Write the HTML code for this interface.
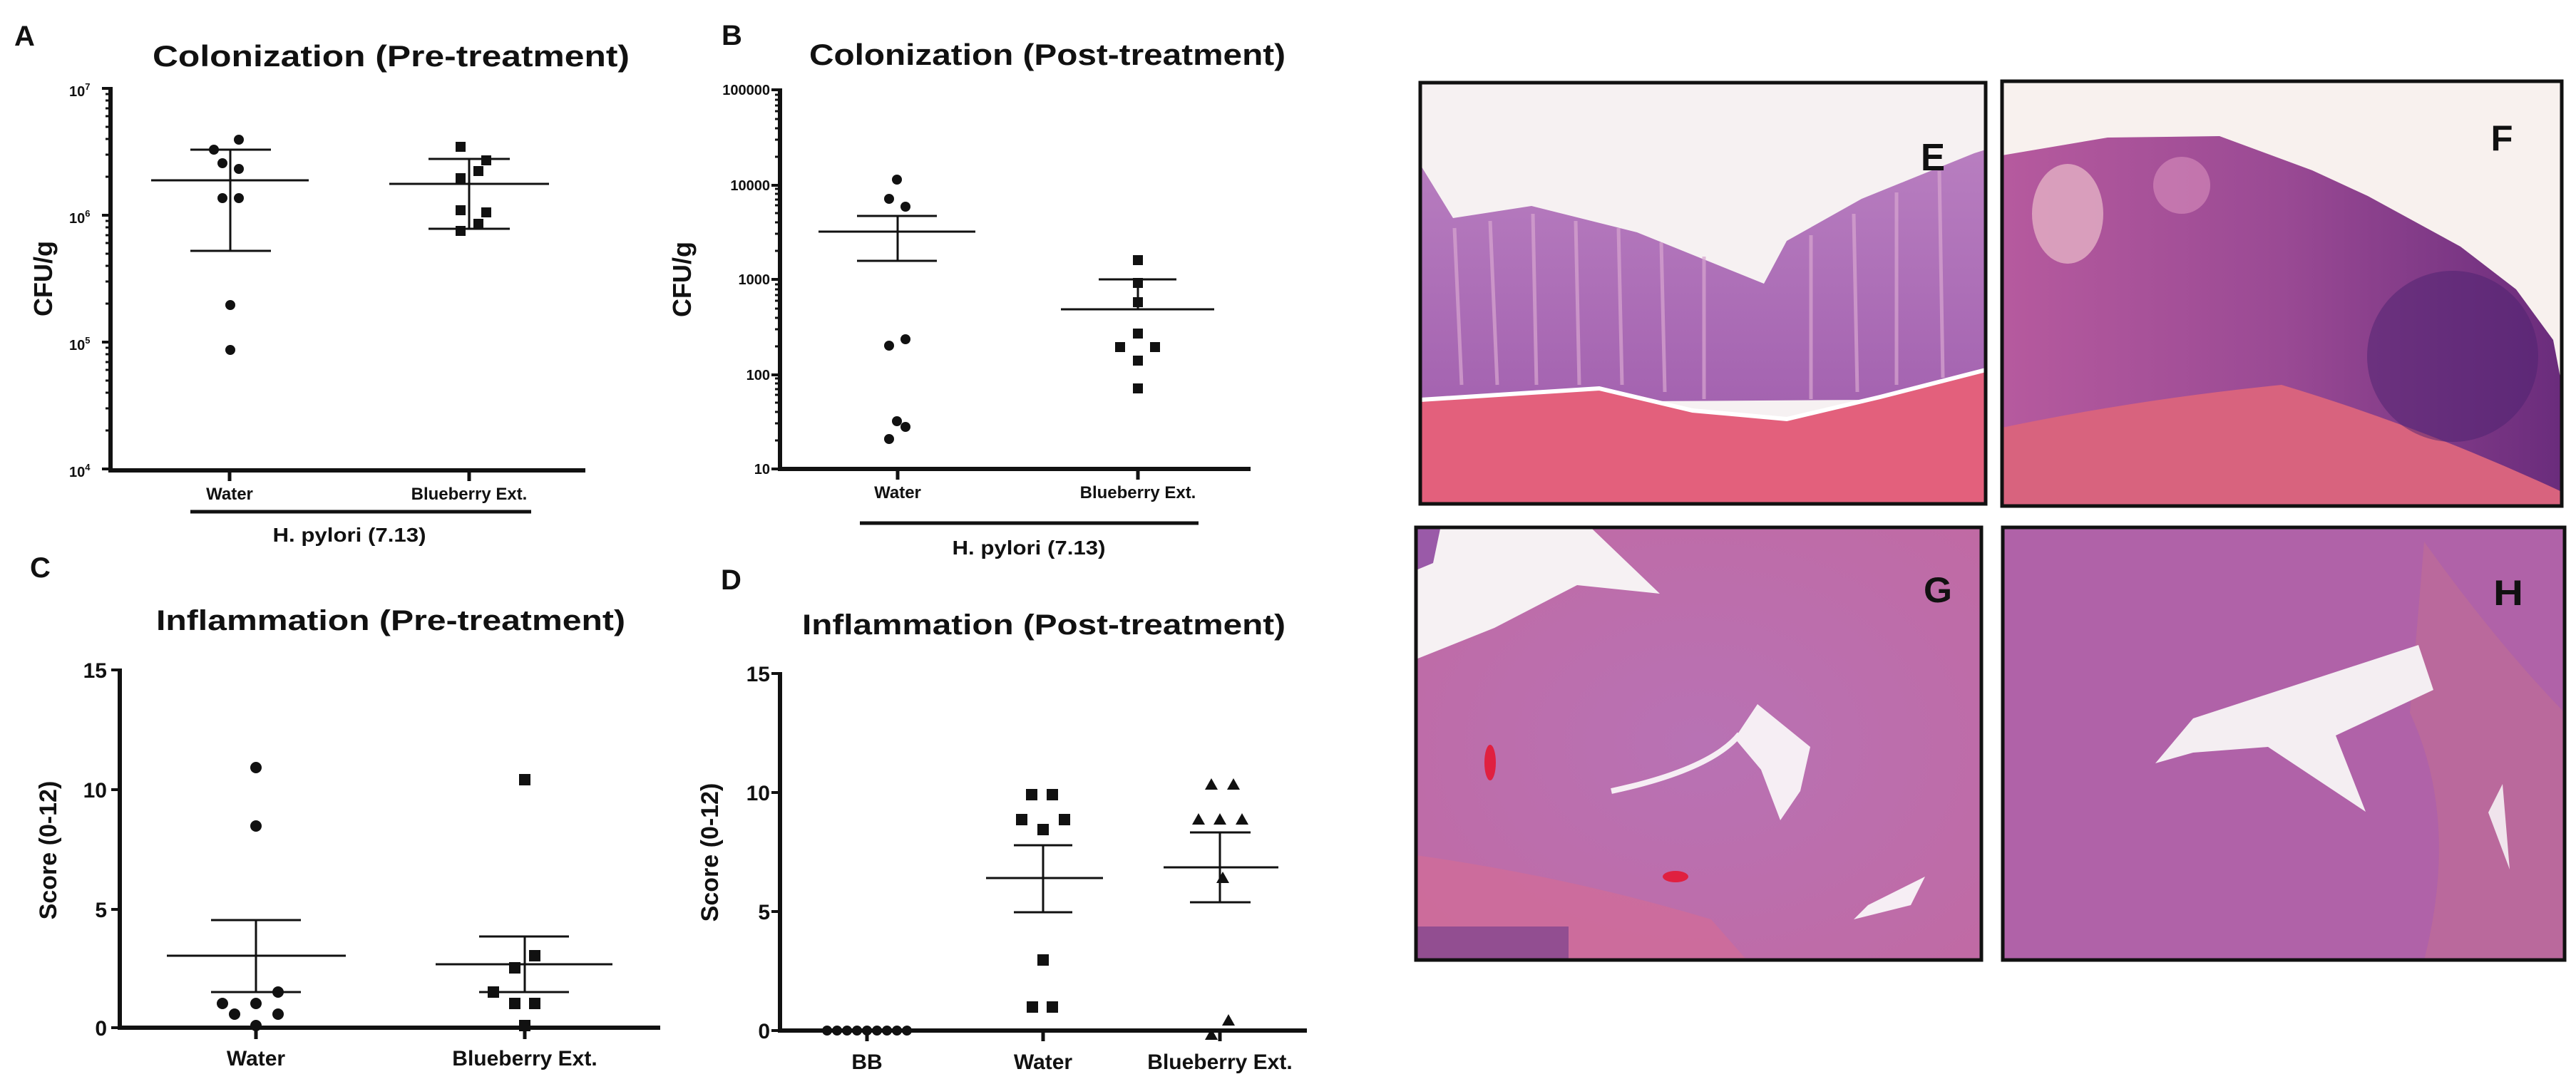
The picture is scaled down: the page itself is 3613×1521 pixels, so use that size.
<!DOCTYPE html>
<html><head><meta charset="utf-8"><style>
html,body{margin:0;padding:0;background:#fff}
svg{display:block}
text{font-family:"Liberation Sans",Arial,sans-serif;font-weight:bold;fill:#111}
</style></head><body>
<svg width="3613" height="1521" viewBox="0 0 3613 1521" xmlns="http://www.w3.org/2000/svg">
<rect width="3613" height="1521" fill="#fff"/>

<!-- ===== Panel A ===== -->
<text x="20" y="64" font-size="40">A</text>
<text x="214" y="93" font-size="42" textLength="669" lengthAdjust="spacingAndGlyphs">Colonization (Pre-treatment)</text>
<g stroke="#111" fill="none">
 <path d="M155 122 V660 M152 660 H821" stroke-width="6"/>
 <path d="M143 124 H155 M143 302 H155 M143 480 H155 M143 658 H155" stroke-width="4"/>
 <path d="M148 604H155M148 573H155M148 551H155M148 534H155M148 519H155M148 508H155M148 497H155M148 488H155
 M148 426H155M148 395H155M148 373H155M148 356H155M148 341H155M148 330H155M148 319H155M148 310H155
 M148 248H155M148 217H155M148 195H155M148 178H155M148 163H155M148 152H155M148 141H155M148 132H155" stroke-width="3"/>
 <path d="M322 660 V675 M658 660 V675" stroke-width="5"/>
 <path d="M267 718 H745" stroke-width="5"/>
 <!-- water error bars -->
 <path d="M212 253 H433 M267 210 H380 M267 352 H380 M323 210 V352" stroke-width="3"/>
 <path d="M546 258 H770 M601 223 H715 M601 321 H715 M658 223 V321" stroke-width="3"/>
</g>
<g fill="#111">
 <circle cx="335" cy="196" r="7"/><circle cx="300" cy="210" r="7"/><circle cx="312" cy="229" r="7"/><circle cx="335" cy="237" r="7"/>
 <circle cx="312" cy="278" r="7"/><circle cx="335" cy="278" r="7"/><circle cx="323" cy="428" r="7"/><circle cx="323" cy="491" r="7"/>
 <rect x="639" y="199" width="14" height="14"/><rect x="675" y="218" width="14" height="14"/><rect x="664" y="233" width="14" height="14"/>
 <rect x="639" y="243" width="14" height="14"/><rect x="639" y="288" width="14" height="14"/><rect x="675" y="291" width="14" height="14"/>
 <rect x="664" y="307" width="14" height="14"/><rect x="639" y="317" width="14" height="14"/>
</g>
<g font-size="20">
 <text x="97" y="135">10<tspan font-size="13" dy="-9">7</tspan></text>
 <text x="97" y="313">10<tspan font-size="13" dy="-9">6</tspan></text>
 <text x="97" y="491">10<tspan font-size="13" dy="-9">5</tspan></text>
 <text x="97" y="669">10<tspan font-size="13" dy="-9">4</tspan></text>
</g>
<text transform="translate(73,391) rotate(-90)" font-size="36" text-anchor="middle">CFU/g</text>
<text x="322" y="701" font-size="24" text-anchor="middle">Water</text>
<text x="658" y="701" font-size="24" text-anchor="middle">Blueberry Ext.</text>
<text x="490" y="760" font-size="28" text-anchor="middle" textLength="215" lengthAdjust="spacingAndGlyphs">H. pylori (7.13)</text>

<!-- ===== Panel B ===== -->
<text x="1012" y="63" font-size="40">B</text>
<text x="1135" y="91" font-size="42" textLength="668" lengthAdjust="spacingAndGlyphs">Colonization (Post-treatment)</text>
<g stroke="#111" fill="none">
 <path d="M1094 124 V660 M1091 658 H1754" stroke-width="6"/>
 <path d="M1082 126H1094M1082 260H1094M1082 392H1094M1082 526H1094M1082 658H1094" stroke-width="4"/>
 <path d="M1087 618H1094M1087 594H1094M1087 578H1094M1087 565H1094M1087 554H1094M1087 546H1094M1087 538H1094M1087 531H1094
 M1087 486H1094M1087 462H1094M1087 446H1094M1087 433H1094M1087 422H1094M1087 414H1094M1087 406H1094M1087 399H1094
 M1087 352H1094M1087 328H1094M1087 312H1094M1087 299H1094M1087 288H1094M1087 280H1094M1087 272H1094M1087 265H1094
 M1087 220H1094M1087 196H1094M1087 180H1094M1087 167H1094M1087 156H1094M1087 148H1094M1087 140H1094M1087 133H1094" stroke-width="3"/>
 <path d="M1259 658 V673 M1596 658 V673" stroke-width="5"/>
 <path d="M1206 734 H1681" stroke-width="5"/>
 <path d="M1148 325 H1368 M1202 303 H1314 M1202 366 H1314 M1259 303 V366" stroke-width="3"/>
 <path d="M1488 434 H1703 M1541 392 H1650 M1596 392 V434" stroke-width="3"/>
</g>
<g fill="#111">
 <circle cx="1258" cy="252" r="7"/><circle cx="1247" cy="279" r="7"/><circle cx="1270" cy="290" r="7"/><circle cx="1247" cy="485" r="7"/>
 <circle cx="1270" cy="476" r="7"/><circle cx="1258" cy="591" r="7"/><circle cx="1270" cy="599" r="7"/><circle cx="1247" cy="616" r="7"/>
 <rect x="1589" y="358" width="14" height="14"/><rect x="1589" y="390" width="14" height="14"/><rect x="1589" y="417" width="14" height="14"/>
 <rect x="1589" y="461" width="14" height="14"/><rect x="1564" y="480" width="14" height="14"/><rect x="1613" y="480" width="14" height="14"/>
 <rect x="1589" y="499" width="14" height="14"/><rect x="1589" y="538" width="14" height="14"/>
</g>
<g font-size="20" text-anchor="end">
 <text x="1080" y="133">100000</text><text x="1080" y="267">10000</text><text x="1080" y="399">1000</text>
 <text x="1080" y="533">100</text><text x="1080" y="665">10</text>
</g>
<text transform="translate(969,392) rotate(-90)" font-size="36" text-anchor="middle">CFU/g</text>
<text x="1259" y="699" font-size="24" text-anchor="middle">Water</text>
<text x="1596" y="699" font-size="24" text-anchor="middle">Blueberry Ext.</text>
<text x="1443" y="778" font-size="28" text-anchor="middle" textLength="215" lengthAdjust="spacingAndGlyphs">H. pylori (7.13)</text>

<!-- ===== Panel C ===== -->
<text x="42" y="810" font-size="40">C</text>
<text x="219" y="884" font-size="40" textLength="658" lengthAdjust="spacingAndGlyphs">Inflammation (Pre-treatment)</text>
<g stroke="#111" fill="none">
 <path d="M168 938 V1445 M165 1442 H926" stroke-width="6"/>
 <path d="M156 940H168M156 1108H168M156 1276H168M156 1442H168" stroke-width="4"/>
 <path d="M359 1442 V1458 M736 1442 V1458" stroke-width="5"/>
 <path d="M234 1341 H485 M296 1291 H422 M296 1392 H422 M359 1291 V1392" stroke-width="3"/>
 <path d="M611 1353 H859 M672 1314 H798 M672 1392 H798 M736 1314 V1392" stroke-width="3"/>
</g>
<g fill="#111">
 <circle cx="359" cy="1077" r="8"/><circle cx="359" cy="1159" r="8"/><circle cx="390" cy="1392" r="8"/><circle cx="312" cy="1408" r="8"/>
 <circle cx="359" cy="1408" r="8"/><circle cx="329" cy="1423" r="8"/><circle cx="390" cy="1423" r="8"/><circle cx="359" cy="1439" r="8"/>
 <rect x="728" y="1086" width="16" height="16"/><rect x="742" y="1333" width="16" height="16"/><rect x="714" y="1350" width="16" height="16"/>
 <rect x="684" y="1384" width="16" height="16"/><rect x="714" y="1400" width="16" height="16"/><rect x="742" y="1400" width="16" height="16"/>
 <rect x="728" y="1431" width="16" height="16"/>
</g>
<g font-size="30" text-anchor="end">
 <text x="150" y="951">15</text><text x="150" y="1119">10</text><text x="150" y="1287">5</text><text x="150" y="1453">0</text>
</g>
<text transform="translate(79,1193) rotate(-90)" font-size="34" text-anchor="middle">Score (0-12)</text>
<text x="359" y="1495" font-size="30" text-anchor="middle">Water</text>
<text x="736" y="1495" font-size="30" text-anchor="middle">Blueberry Ext.</text>

<!-- ===== Panel D ===== -->
<text x="1011" y="827" font-size="40">D</text>
<text x="1125" y="890" font-size="40" textLength="678" lengthAdjust="spacingAndGlyphs">Inflammation (Post-treatment)</text>
<g stroke="#111" fill="none">
 <path d="M1094 943 V1449 M1091 1446 H1833" stroke-width="6"/>
 <path d="M1082 945H1094M1082 1112H1094M1082 1279H1094M1082 1446H1094" stroke-width="4"/>
 <path d="M1216 1446 V1461 M1463 1446 V1461 M1711 1446 V1461" stroke-width="5"/>
 <path d="M1383 1232 H1547 M1422 1186 H1504 M1422 1280 H1504 M1463 1186 V1280" stroke-width="3"/>
 <path d="M1632 1217 H1793 M1669 1168 H1754 M1669 1266 H1754 M1711 1168 V1266" stroke-width="3"/>
</g>
<g fill="#111">
 <circle cx="1160" cy="1446" r="7"/><circle cx="1174" cy="1446" r="7"/><circle cx="1188" cy="1446" r="7"/><circle cx="1202" cy="1446" r="7"/>
 <circle cx="1216" cy="1446" r="7"/><circle cx="1230" cy="1446" r="7"/><circle cx="1244" cy="1446" r="7"/><circle cx="1258" cy="1446" r="7"/><circle cx="1272" cy="1446" r="7"/>
 <rect x="1439" y="1107" width="16" height="16"/><rect x="1468" y="1107" width="16" height="16"/><rect x="1425" y="1142" width="16" height="16"/>
 <rect x="1485" y="1142" width="16" height="16"/><rect x="1455" y="1156" width="16" height="16"/><rect x="1455" y="1339" width="16" height="16"/>
 <rect x="1440" y="1405" width="16" height="16"/><rect x="1468" y="1405" width="16" height="16"/>
 <path d="M1699 1092l9 16h-18z M1730 1092l9 16h-18z M1681 1141l9 16h-18z M1711 1141l9 16h-18z M1742 1141l9 16h-18z M1715 1223l9 16h-18z M1723 1423l9 16h-18z M1699 1443l9 16h-18z"/>
</g>
<g font-size="30" text-anchor="end">
 <text x="1080" y="956">15</text><text x="1080" y="1123">10</text><text x="1080" y="1290">5</text><text x="1080" y="1457">0</text>
</g>
<text transform="translate(1007,1196) rotate(-90)" font-size="34" text-anchor="middle">Score (0-12)</text>
<text x="1216" y="1500" font-size="30" text-anchor="middle">BB</text>
<text x="1463" y="1500" font-size="30" text-anchor="middle">Water</text>
<text x="1711" y="1500" font-size="30" text-anchor="middle">Blueberry Ext.</text>

<!-- ===== Histology photos ===== -->
<defs>
 <linearGradient id="gE" x1="0" y1="0" x2="0" y2="1">
  <stop offset="0" stop-color="#b87ec0"/><stop offset="1" stop-color="#a463b0"/>
 </linearGradient>
 <linearGradient id="gF" x1="0" y1="0" x2="1" y2="0">
  <stop offset="0" stop-color="#b65a9e"/><stop offset="0.5" stop-color="#9a4a94"/><stop offset="1" stop-color="#6a2c7c"/>
 </linearGradient>
 <radialGradient id="gG" cx="0.5" cy="0.5" r="0.7">
  <stop offset="0" stop-color="#b872b4"/><stop offset="1" stop-color="#c06aa4"/>
 </radialGradient>
</defs>
<!-- E -->
<svg x="1992" y="116" width="793" height="591" viewBox="1992 116 793 591">
 <rect x="1992" y="116" width="793" height="591" fill="#f6f1f2"/>
 <path d="M1992 231 L2038 306 L2148 289 L2296 326 L2474 398 L2506 338 L2611 279 L2769 215 L2785 210 V560 L1992 565 Z" fill="url(#gE)"/>
 <path d="M2040 320 L2050 540 M2090 310 L2100 540 M2150 300 L2155 540 M2210 310 L2215 540 M2270 320 L2275 540 M2330 340 L2335 550 M2390 360 L2390 560 M2540 330 L2540 560 M2600 300 L2605 550 M2660 270 L2660 540 M2720 240 L2725 530" stroke="#d8a6d0" stroke-width="5" opacity="0.7"/>
 <path d="M1992 562 L2243 546 L2374 577 L2506 589 L2637 558 L2785 520 V707 H1992 Z" fill="#e3607c"/>
 <path d="M1992 561 L2243 545 L2374 576 L2506 588 L2637 557 L2785 519" stroke="#fff" stroke-width="6" fill="none"/>
</svg>
<rect x="1992" y="116" width="793" height="591" fill="none" stroke="#111" stroke-width="5"/>
<text x="2711" y="239" font-size="54" text-anchor="middle" textLength="34" lengthAdjust="spacingAndGlyphs">E</text>
<!-- F -->
<svg x="2808" y="114" width="785" height="596" viewBox="2808 114 785 596">
 <rect x="2808" y="114" width="785" height="596" fill="#f8f1ee"/>
 <path d="M2808 218 L2956 193 L3113 191 L3243 239 L3321 275 L3451 346 L3529 406 L3581 477 L3593 540 V710 H2808 Z" fill="url(#gF)"/>
 <path d="M2808 600 Q3000 560 3200 540 Q3400 600 3593 690 V710 H2808 Z" fill="#d8637e"/>
 <ellipse cx="2900" cy="300" rx="50" ry="70" fill="#e4b0c4" opacity="0.8"/>
 <ellipse cx="3060" cy="260" rx="40" ry="40" fill="#d890bc" opacity="0.6"/>
 <ellipse cx="3440" cy="500" rx="120" ry="120" fill="#4c2270" opacity="0.5"/>
</svg>
<rect x="2808" y="114" width="785" height="596" fill="none" stroke="#111" stroke-width="5"/>
<text x="3509" y="211" font-size="50" text-anchor="middle" textLength="31" lengthAdjust="spacingAndGlyphs">F</text>
<!-- G -->
<svg x="1986" y="740" width="793" height="607" viewBox="1986 740 793 607">
 <rect x="1986" y="740" width="793" height="607" fill="url(#gG)"/>
 <path d="M1986 742 L2233 742 L2328 833 L2212 821 L2096 881 L1986 925 Z" fill="#f6f1f3"/>
 <path d="M1986 742 L2020 742 L2010 790 L1986 800 Z" fill="#9a5aa8"/>
 <path d="M2433 1036 L2465 988 L2539 1048 L2525 1110 L2497 1151 L2470 1080 Z" fill="#f6eef4"/>
 <path d="M2260 1110 Q2400 1080 2440 1030" stroke="#f6eef4" stroke-width="8" fill="none"/>
 <path d="M2600 1290 L2680 1270 L2700 1230 L2620 1270 Z" fill="#f6eef4"/>
 <path d="M1986 1200 Q2200 1230 2400 1290 L2450 1347 H1986 Z" fill="#d56c94" opacity="0.6"/>
 <path d="M1986 1300 H2200 V1347 H1986 Z" fill="#6a3a8a" opacity="0.6"/>
 <ellipse cx="2090" cy="1070" rx="8" ry="25" fill="#e02040"/>
 <ellipse cx="2350" cy="1230" rx="18" ry="8" fill="#e02040"/>
</svg>
<rect x="1986" y="740" width="793" height="607" fill="none" stroke="#111" stroke-width="5"/>
<text x="2718" y="845" font-size="50" text-anchor="middle" textLength="40" lengthAdjust="spacingAndGlyphs">G</text>
<!-- H -->
<svg x="2809" y="740" width="788" height="607" viewBox="2809 740 788 607">
 <rect x="2809" y="740" width="788" height="607" fill="#b062a8"/>
 <path d="M3400 760 Q3500 900 3597 1000 V1347 H3400 Q3450 1150 3380 1000 Z" fill="#c47090" opacity="0.5"/>
 <path d="M3023 1071 L3076 1008 L3392 905 L3413 968 L3276 1032 L3318 1139 L3181 1048 L3076 1056 Z" fill="#f4eef2"/>
 <path d="M3490 1140 L3510 1100 L3520 1220 Z" fill="#f0e4ec"/>
</svg>
<rect x="2809" y="740" width="788" height="607" fill="none" stroke="#111" stroke-width="5"/>
<text x="3518" y="849" font-size="50" text-anchor="middle" textLength="42" lengthAdjust="spacingAndGlyphs">H</text>
</svg>
</body></html>
